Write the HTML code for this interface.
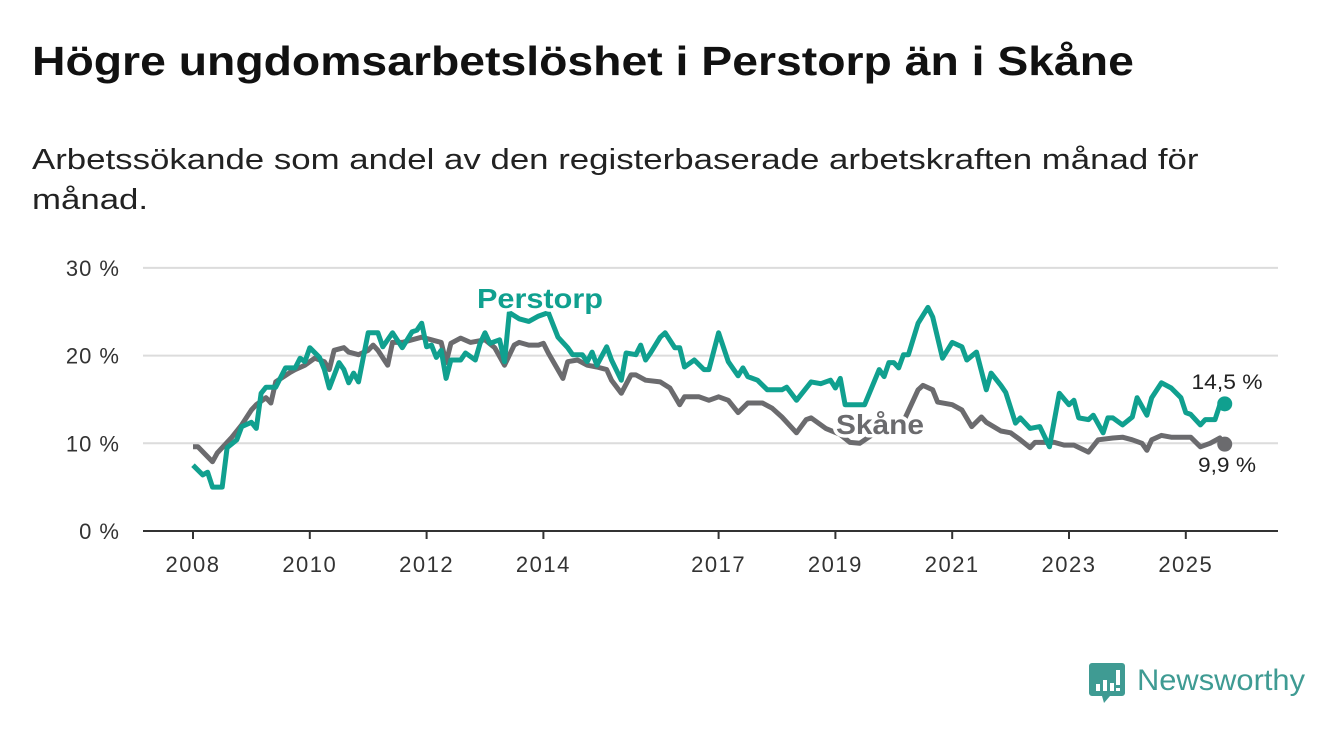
<!DOCTYPE html>
<html><head><meta charset="utf-8"><style>
html,body{margin:0;padding:0;background:#fff;}
body{width:1340px;height:734px;overflow:hidden;position:relative;font-family:"Liberation Sans",sans-serif;}
#title{position:absolute;left:32px;top:38px;font-size:41px;font-weight:bold;color:#111;margin:0;white-space:nowrap;transform:scaleX(1.13);transform-origin:0 0;}
#sub{position:absolute;left:32px;top:140px;font-size:29px;color:#222;line-height:40px;white-space:nowrap;transform:scaleX(1.2);transform-origin:0 0;}
svg{position:absolute;left:0;top:0;}
</style></head><body>
<h1 id="title">Högre ungdomsarbetslöshet i Perstorp än i Skåne</h1>
<div id="sub">Arbetssökande som andel av den registerbaserade arbetskraften månad för<br>månad.</div>
<svg id="chart" width="1340" height="734"></svg>
<svg width="1340" height="734">
<path d="M1092 663 h30 a3 3 0 0 1 3 3 v27 a3 3 0 0 1 -3 3 h-12 l-6 7 l-2 -7 h-10 a3 3 0 0 1 -3 -3 v-27 a3 3 0 0 1 3 -3z" fill="#3f9b93"/>
<rect x="1096" y="684" width="4" height="7" fill="#fff"/><rect x="1103" y="680" width="4" height="11" fill="#fff"/><rect x="1110" y="683" width="4" height="8" fill="#fff"/><rect x="1116" y="670" width="4" height="15" fill="#fff"/><rect x="1116" y="688" width="4" height="3" fill="#fff"/>
<text x="1137" y="690" font-family="Liberation Sans, sans-serif" font-size="30" fill="#3f9b93" textLength="168" lengthAdjust="spacingAndGlyphs">Newsworthy</text>
</svg>
<script>
const yTicks=[0,10,20,30];
const xTickYears=[2008,2010,2012,2014,2017,2019,2021,2023,2025];
const perstorpMonths=[0,2,3,4,6,7,9,10,12,13,14,15,17,19,21,22,23,24,26,27,28,30,31,32,33,34,35,36,38,39,41,43,45,46,47,48,49,50,51,52,53,55,56,58,59,60,61,63,64,65,67,69,71,73,75,77,78,80,81,82,83,85,86,88,89,91,92,93,94,96,97,99,100,101,103,105,106,108,110,112,113,114,116,118,121,122,124,127,129,131,132,133,134,138,141,142,143,144,145,146,147,149,151,152,154,156,158,159,161,163,164,166,167,169,170,172,174,176,178,180,181,182,184,185,187,188,189,191,193,194,196,197,199,201,203,204,205,207,208,210,211,212];
const perstorpValues=[7.5,6.4,6.7,5.0,5.0,9.5,10.4,11.9,12.4,11.7,15.7,16.4,16.4,18.6,18.6,19.7,19.3,20.9,19.8,18.4,16.3,19.2,18.4,16.9,18.0,17.0,19.8,22.6,22.6,21.0,22.6,20.9,22.7,22.9,23.7,21.0,21.2,19.8,20.6,17.4,19.5,19.5,20.3,19.5,21.4,22.6,21.4,21.8,19.3,24.9,24.2,23.9,24.5,24.9,22.1,20.9,20.1,20.1,19.3,20.4,18.9,21.0,19.5,17.2,20.3,20.1,21.2,19.5,20.3,22.1,22.6,20.9,20.9,18.7,19.5,18.4,18.4,22.6,19.3,17.7,18.6,17.6,17.2,16.1,16.1,16.4,14.9,17.0,16.8,17.2,16.3,17.4,14.4,14.4,18.4,17.6,19.2,19.2,18.6,20.1,20.1,23.7,25.5,24.4,19.7,21.5,21.0,19.5,20.4,16.1,18.0,16.6,15.8,12.3,12.9,11.7,11.9,9.6,15.7,14.4,14.9,12.9,12.7,13.2,11.2,12.9,12.9,12.1,13.0,15.2,13.2,15.2,16.9,16.3,15.2,13.5,13.3,12.1,12.7,12.7,14.4,14.5];
const skaneMonths=[0,1,4,5,8,10,12,13,15,16,17,20,21,23,25,27,28,29,31,32,34,36,37,38,40,41,43,45,47,49,51,52,53,55,57,60,62,64,66,67,69,71,72,73,76,77,79,81,83,85,86,88,90,91,93,96,98,100,101,104,106,108,110,112,114,117,119,121,124,126,127,130,133,135,137,141,146,149,150,152,153,156,158,160,162,163,166,168,170,172,173,177,179,181,184,186,189,191,193,195,196,197,199,201,205,207,209,211,212];
const skaneValues=[9.6,9.6,7.9,8.9,10.7,12.1,13.8,14.4,15.2,14.6,17.0,18.1,18.4,18.9,19.7,19.3,18.4,20.6,20.9,20.4,20.1,20.6,21.2,20.6,18.9,21.5,21.5,21.8,22.1,21.8,21.5,19.2,21.4,22.0,21.5,21.8,20.9,18.9,21.2,21.5,21.2,21.2,21.4,20.3,17.4,19.3,19.5,18.9,18.7,18.4,17.2,15.7,17.8,17.8,17.2,17.0,16.3,14.4,15.3,15.3,14.9,15.3,14.9,13.5,14.6,14.6,14.0,13.0,11.2,12.7,12.9,11.7,11.0,10.1,10.0,11.5,12.5,16.1,16.6,16.1,14.7,14.4,13.8,11.9,13.0,12.4,11.4,11.2,10.4,9.5,10.1,10.1,9.8,9.8,9.0,10.4,10.6,10.7,10.4,10.0,9.2,10.4,10.9,10.7,10.7,9.6,10.0,10.6,9.9];

const NS='http://www.w3.org/2000/svg';
const svg=document.getElementById('chart');
const X0=193, PXY=58.4, Y0=531, PXP=8.77;
const xYear=y=>X0+(y-2008)*PXY;
const xMonth=m=>X0+m*PXY/12;
const yVal=v=>Y0-v*PXP;
function mk(tag,attrs){const e=document.createElementNS(NS,tag);for(const k in attrs)e.setAttribute(k,attrs[k]);svg.appendChild(e);return e;}
yTicks.forEach(t=>{
  const g=mk('line',{x1:143,x2:1278,y1:yVal(t),y2:yVal(t),stroke:t===0?'#333':'#dcdcdc','stroke-width':2});
  
  
  const l=mk('text',{x:120,y:yVal(t)+8,'text-anchor':'end','font-size':22,'letter-spacing':1,fill:'#333'});
  l.textContent=t+' %';
  
  
});
xTickYears.forEach(yr=>{
  const tk=mk('line',{x1:xYear(yr),x2:xYear(yr),y1:Y0,y2:Y0+8,stroke:'#333','stroke-width':2});
  
  
  const l=mk('text',{x:xYear(yr),y:572,'text-anchor':'middle','font-size':22,'letter-spacing':1.5,fill:'#333'});
  l.textContent=yr;
  
  
});
function line(ms,vs,col,name){
  const d=ms.map((m,i)=>(i?'L':'M')+xMonth(m).toFixed(1)+' '+yVal(vs[i]).toFixed(1)).join(' ');
  const p=mk('path',{d:d,fill:'none',stroke:col,'stroke-width':5,'stroke-linejoin':'round'});
  
  
  const n=ms.length-1;
  const c=mk('circle',{cx:xMonth(ms[n]),cy:yVal(vs[n]),r:7.5,fill:col});
  
  
}
line(skaneMonths,skaneValues,'#6b6b6e','skane-line');
line(perstorpMonths,perstorpValues,'#10a08f','perstorp-line');
function lab(txt,x,y,col,size,bold,anchor,len,name){
  const t=mk('text',{x:x,y:y,'text-anchor':anchor,'font-size':size,'font-weight':bold?'bold':'normal',fill:col,stroke:'#fff','stroke-width':7,'paint-order':'stroke','stroke-linejoin':'round',textLength:len,lengthAdjust:'spacingAndGlyphs'});
  t.textContent=txt;
  
  
}
lab('Perstorp',477,308,'#10a08f',28,true,'start',126,'perstorp-label');
lab('Skåne',836,434,'#6b6b6e',28,true,'start',88,'skane-label');
const pn=perstorpValues.length-1, sn=skaneValues.length-1;
lab(perstorpValues[pn].toFixed(1).replace('.',',')+' %',1227,389,'#222',21,false,'middle',71,'perstorp-end-value');
lab(skaneValues[sn].toFixed(1).replace('.',',')+' %',1227,472,'#222',21,false,'middle',58,'skane-end-value');
</script>
</body></html>
